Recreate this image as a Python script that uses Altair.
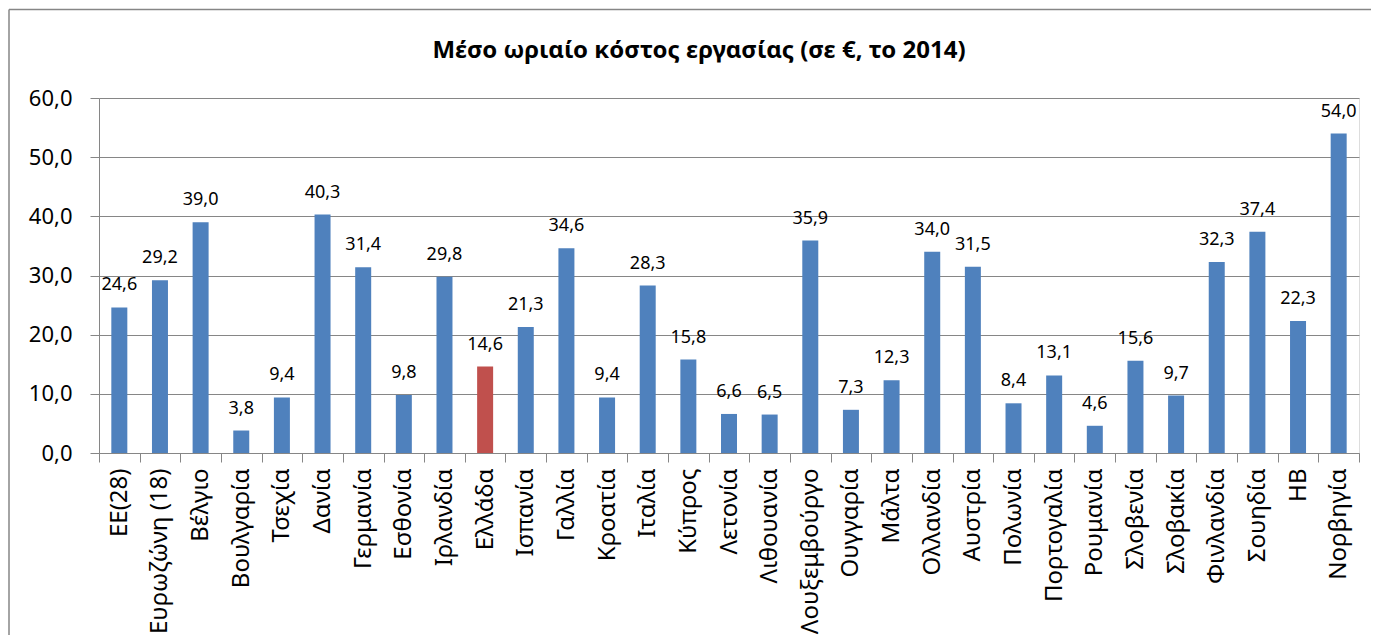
import altair as alt
import pandas as pd

countries = ["ΕΕ(28)", "Ευρωζώνη (18)", "Βέλγιο", "Βουλγαρία", "Τσεχία", "Δανία",
             "Γερμανία", "Εσθονία", "Ιρλανδία", "Ελλάδα", "Ισπανία", "Γαλλία",
             "Κροατία", "Ιταλία", "Κύπρος", "Λετονία", "Λιθουανία", "Λουξεμβούργο",
             "Ουγγαρία", "Μάλτα", "Ολλανδία", "Αυστρία", "Πολωνία", "Πορτογαλία",
             "Ρουμανία", "Σλοβενία", "Σλοβακία", "Φινλανδία", "Σουηδία", "ΗΒ", "Νορβηγία"]
values = [24.6, 29.2, 39.0, 3.8, 9.4, 40.3,
          31.4, 9.8, 29.8, 14.6, 21.3, 34.6,
          9.4, 28.3, 15.8, 6.6, 6.5, 35.9,
          7.3, 12.3, 34.0, 31.5, 8.4, 13.1,
          4.6, 15.6, 9.7, 32.3, 37.4, 22.3, 54.0]
highlight = "Ελλάδα"
title_text = "Μέσο ωριαίο κόστος εργασίας (σε €, το 2014)"

df = pd.DataFrame({"country": countries, "value": values})
df["label"] = [f"{v:.1f}".replace(".", ",") for v in values]

FONT = "Noto Sans"
GRAY = "#868686"

x_enc = alt.X("country:N", sort=countries, title=None,
              scale=alt.Scale(paddingInner=0, paddingOuter=0),
              axis=alt.Axis(labelAngle=-90, labelFontSize=24, labelFont=FONT,
                            labelColor="black", labelPadding=6, tickSize=9,
                            tickColor=GRAY, domainColor=GRAY, tickBand="extent",
                            grid=False, labelOverlap=False))
y_enc = alt.Y("value:Q", title=None,
              scale=alt.Scale(domain=[0, 60], nice=False),
              axis=alt.Axis(values=[0, 10, 20, 30, 40, 50, 60],
                            labelExpr="replace(format(datum.value, '.1f'), '.', ',')",
                            labelFontSize=22, labelFont=FONT, labelColor="black",
                            labelPadding=18, tickSize=9, tickColor=GRAY,
                            domainColor=GRAY, gridColor=GRAY, grid=True))

base = alt.Chart(df)
bars = base.mark_bar(size=16).encode(
    x=x_enc, y=y_enc,
    color=alt.condition(alt.datum.country == highlight,
                        alt.value("#C0504D"), alt.value("#4F81BD")))
texts = base.mark_text(baseline="alphabetic", dy=-17, fontSize=18, font=FONT,
                       color="black").encode(
    x=alt.X("country:N", sort=countries), y="value:Q", text="label:N")

frame_df = pd.DataFrame({"a": [0]})
top_line = alt.Chart(frame_df).mark_rule(color=GRAY, strokeWidth=1.5).encode(
    x=alt.value(-90), x2=alt.value(1300), y=alt.value(-88.5))
left_line = alt.Chart(frame_df).mark_rule(color=GRAY, strokeWidth=1.5).encode(
    x=alt.value(-90), y=alt.value(-88.5), y2=alt.value(600))

title_df = pd.DataFrame({"t": [title_text]})
title_mark = alt.Chart(title_df).mark_text(
    fontSize=24, fontWeight="bold", font=FONT, color="black",
    align="center", baseline="alphabetic").encode(
    x=alt.value(600), y=alt.value(-40), text="t:N")

chart = alt.layer(top_line, left_line, title_mark, bars, texts).properties(
    width=1260, height=355,
    autosize=alt.AutoSizeParams(type="none"),
    padding={"left": 91, "top": 90, "right": 12, "bottom": 182},
).configure_view(stroke=None).configure(background="white")

chart.save("out.html", embed_options={"renderer": "svg", "actions": False})
